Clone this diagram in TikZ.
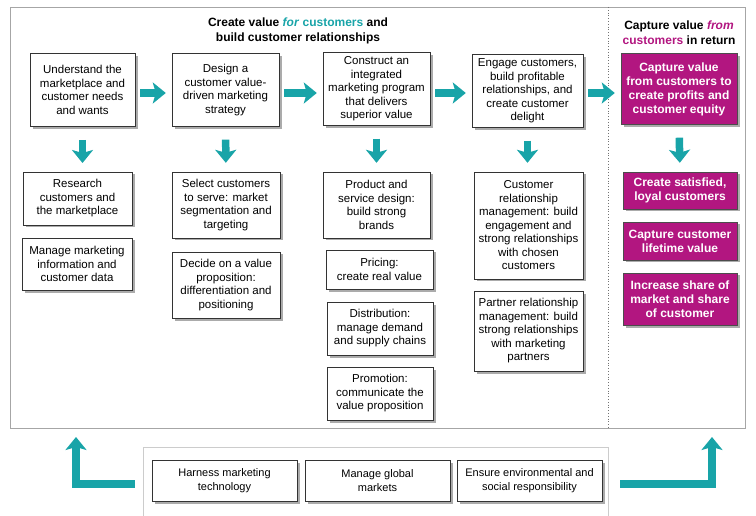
\documentclass[tikz,border=0pt]{standalone}
\usepackage{fontspec}
\setmainfont{Liberation Sans}
\usetikzlibrary{arrows.meta,shadows,positioning}
\definecolor{cteal}{RGB}{24,164,168}
\definecolor{cmag}{RGB}{178,22,128}

\begin{document}
\begin{tikzpicture}[
        x=1pt, y=-1pt, % 1 px = 1 pt, y вниз
        box/.style={draw=black!80, fill=white, align=center, inner sep=1pt,
            font=\fontsize{11.5}{13.5}\selectfont,
            drop shadow={shadow xshift=2.5pt, shadow yshift=-2.5pt, fill=black!55, opacity=.6}}, % блок
        mbox/.style={box, draw=black!70, fill=cmag, text=white, font=\bfseries\fontsize{12}{14}\selectfont},
        sbox/.style={box, font=\fontsize{11}{14}\selectfont}, % нижние блоки
        sz/.style 2 args={minimum width=#1pt, minimum height=#2pt},
        go/.style={draw=cteal, line width=7.5pt, -{Stealth[width=21pt,length=13pt,inset=3pt]}}, % стрелки
        hgo/.style={go, shorten <=5pt, shorten >=6pt},
        vgo/.style={go, shorten <=13pt, shorten >=9pt},
        title/.style={align=center, font=\bfseries\fontsize{12}{15}\selectfont},
    ]
    \useasboundingbox (0,0) rectangle (756,516);

    % рамки
    \node[draw=black!35, line width=.6pt, sz={735}{421}] (frame) at (377.5,217.5) {};
    \draw[black!55, dotted, line width=.8pt] (608,7) -- (608,428);
    \node[draw=black!20, line width=.6pt, sz={465}{74}] (base) at (375.5,484) {};

    % заголовки
    \node[title] (ttlleft) at (298,31) {Create value \textcolor{cteal}{\textit{for} customers} and\\build customer relationships};
    \node[title] (ttlright) at (679,33) {Capture value \textcolor{cmag}{\textit{from}}\\\textcolor{cmag}{customers} in return};

    % верхний ряд
    \node[box, sz={105}{73}] (understand) at (82.5,90) {Understand the\\marketplace and\\customer needs\\and wants};
    \node[box, sz={107}{73}] (design) at (225.5,90) {Design a\\customer value-\\driven marketing\\strategy};
    \node[box, sz={107}{73}] (construct) at (376.5,89) {Construct an\\integrated\\marketing program\\that delivers\\superior value};
    \node[box, sz={111}{73}] (engage) at (527.5,91) {Engage customers,\\build profitable\\relationships, and\\create customer\\delight};
    \node[mbox, sz={116}{71}] (capture) at (679,89) {Capture value\\from customers to\\create profits and\\customer equity};

    % столбцы
    \node[box, sz={109}{53}] (research) at (77.5,198.5) {Research\\customers and\\the marketplace};
    \node[box, sz={110}{52}] (manage) at (77,264) {Manage marketing\\information and\\customer data};
    \node[box, sz={108}{66}] (select) at (226,205) {Select customers\\to serve: market\\segmentation and\\targeting};
    \node[box, sz={108}{66}] (decide) at (226,285) {Decide on a value\\proposition:\\differentiation and\\positioning};
    \node[box, sz={107}{66}] (product) at (376.5,205) {Product and\\service design:\\build strong\\brands};
    \node[box, sz={107}{39}] (pricing) at (379.5,269.5) {Pricing:\\create real value};
    \node[box, sz={106}{53}] (distrib) at (380,328.5) {Distribution:\\manage demand\\and supply chains};
    \node[box, sz={106}{53}] (promo) at (380,393.5) {Promotion:\\communicate the\\value proposition};
    \node[box, sz={109}{107}] (crm) at (528.5,225.5) {Customer\\relationship\\management: build\\engagement and\\strong relationships\\with chosen\\customers};
    \node[box, sz={109}{80}] (prm) at (528.5,331) {Partner relationship\\management: build\\strong relationships\\with marketing\\partners};
    \node[mbox, sz={114}{37}] (loyal) at (680,190.5) {Create satisfied,\\loyal customers};
    \node[mbox, sz={114}{38}] (lifetime) at (680,241) {Capture customer\\lifetime value};
    \node[mbox, sz={114}{52}] (share) at (680,299) {Increase share of\\market and share\\of customer};

    % нижний ряд
    \node[sbox, sz={145}{41}] (harness) at (224.5,480.5) {Harness marketing\\technology};
    \node[sbox, sz={145}{41}] (global) at (377.5,480.5) {Manage global\\markets};
    \node[sbox, sz={145}{41}] (ensure) at (529.5,480.5) {Ensure environmental and\\social responsibility};

    % стрелки
    \draw[hgo] (understand.east |- 0,93) -- (design.west |- 0,93);
    \draw[hgo] (design.east |- 0,93) -- (construct.west |- 0,93);
    \draw[hgo] (construct.east |- 0,93) -- (engage.west |- 0,93);
    \draw[hgo] (engage.east |- 0,93) -- (capture.west |- 0,93);
    \draw[vgo] (understand.south |- 0,127) -- (understand.south |- 0,172);
    \draw[vgo] (design) -- (select);
    \draw[vgo] (construct.south) -- (construct.south |- product.north);
    \draw[vgo] (engage.south) -- (engage.south |- crm.north);
    \draw[vgo] (capture.south) -- (loyal.north);
    \coordinate (lup) at (76,437);
    \coordinate (rup) at (712,437);
    \draw[go] ([xshift=-8pt]base.west) -| (lup);
    \draw[go] ([xshift=12pt]base.east) -| (rup);
\end{tikzpicture}
\end{document}
